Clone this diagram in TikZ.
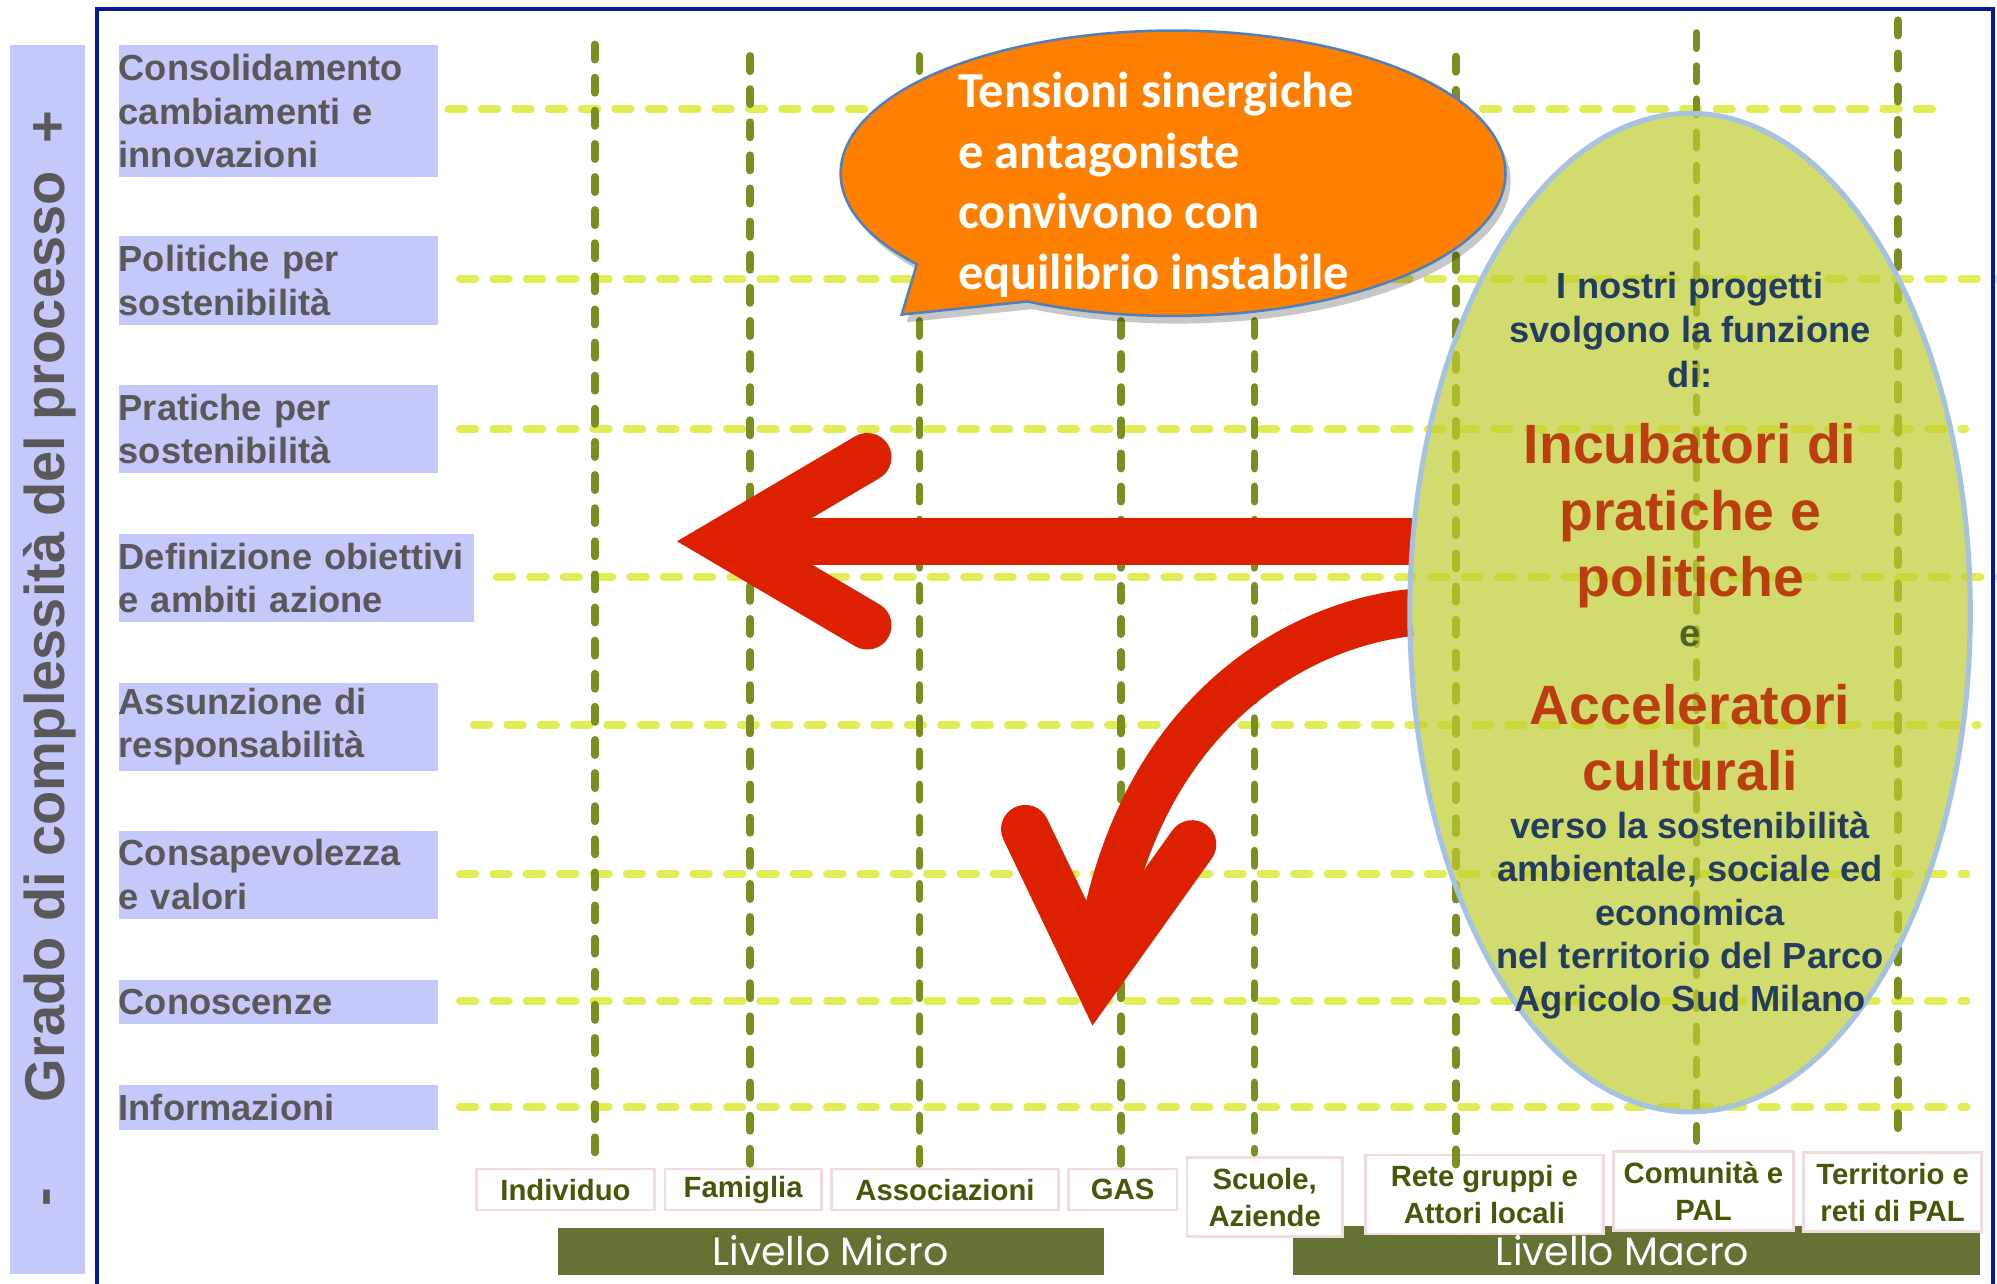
\documentclass[tikz,border=0pt]{standalone}
\usepackage{fontspec}
\setmainfont{Liberation Sans}
\newfontfamily\calib{Carlito}
\newfontfamily\comicf{Poppins}
\usetikzlibrary{shapes.geometric}
\definecolor{lav}{RGB}{197,200,250}
\definecolor{labgray}{RGB}{89,89,89}
\definecolor{yel}{RGB}{226,236,84}
\definecolor{grn}{RGB}{122,143,32}
\definecolor{pinkb}{RGB}{242,220,219}
\definecolor{olivetext}{RGB}{75,85,10}
\definecolor{barg}{RGB}{99,115,52}
\definecolor{frameblue}{RGB}{5,25,160}
\definecolor{arrred}{RGB}{221,32,0}
\definecolor{bubor}{RGB}{255,127,0}
\definecolor{bubedge}{RGB}{79,129,189}
\definecolor{ellf}{RGB}{192,205,48}
\definecolor{elledge}{RGB}{167,193,224}
\definecolor{navy}{RGB}{35,60,95}
\definecolor{brick}{RGB}{187,62,16}
\definecolor{eolive}{RGB}{79,98,40}
\begin{document}
\begin{tikzpicture}[x=1pt,y=-1pt,
  lab/.style={fill=lav, text=labgray, inner sep=0pt, anchor=north west,
    font=\bfseries\fontsize{28.5}{34}\selectfont, align=left},
  botbox/.style={draw=pinkb, line width=2pt, fill=white, inner sep=0pt, anchor=north west,
    text=olivetext, font=\bfseries\fontsize{23}{29}\selectfont, align=center},
  hline/.style={draw=yel, line width=6pt, line cap=round, dash pattern=on 12.3pt off 13.9pt},
  vline/.style={draw=grn, line width=6.2pt, line cap=round, dash pattern=on 11.8pt off 14.2pt},
  levbar/.style={fill=barg},
  levtext/.style={text=white, font=\comicf\fontsize{31}{34}\selectfont},
  redshaft/.style={draw=arrred, line width=37pt},
  redhead/.style={draw=arrred, line width=38pt, line cap=round, line join=miter, miter limit=10},
  navytext/.style={text=navy, align=center, font=\bfseries\fontsize{28.5}{35}\selectfont},
  bricktext/.style={text=brick, align=center, font=\bfseries\fontsize{43.5}{52}\selectfont}
]
\useasboundingbox (0,0) rectangle (1568,1008);
\fill[white] (0,0) rectangle (1568,1008);

% left vertical bar
\fill[lav] (8,35) rectangle (67,1000);
\node[rotate=90, text=labgray, font=\bfseries\fontsize{44}{48}\selectfont] (title) at (39,500) {Grado di complessità del processo};
\node[rotate=90, text=labgray, font=\bfseries\fontsize{44}{48}\selectfont] (plus) at (39,100) {+};
\node[rotate=90, text=labgray, font=\bfseries\fontsize{44}{48}\selectfont] (minus) at (41,940) {-};

% left labels
\node[lab, text width=251pt, minimum height=104pt] (l1) at (93,35) {Consolidamento\\cambiamenti e\\innovazioni};
\node[lab, text width=251pt, minimum height=70pt] (l2) at (93,185) {Politiche per\\sostenibilità};
\node[lab, text width=251pt, minimum height=69pt] (l3) at (93,302) {Pratiche per\\sostenibilità};
\node[lab, text width=279pt, minimum height=69pt] (l4) at (93,419) {Definizione obiettivi\\e ambiti azione};
\node[lab, text width=251pt, minimum height=69pt] (l5) at (93,536) {Assunzione di\\responsabilità};
\node[lab, text width=251pt, minimum height=69pt] (l6) at (93,652) {Consapevolezza\\e valori};
\node[lab, text width=251pt, minimum height=35pt] (l7) at (93,769) {Conoscenze};
\node[lab, text width=251pt, minimum height=35pt] (l8) at (93,852) {Informazioni};

% level bars
\fill[levbar] (438,964) rectangle (867,1001);
\fill[levbar] (1015,963) rectangle (1555,1001);
\node[levtext] (micro) at (652,982) {Livello Micro};
\node[levtext] (macro) at (1274,982) {Livello Macro};

% bottom boxes
\node[botbox, minimum width=140pt, minimum height=32pt] (b1) at (373,917) {Individuo};
\node[botbox, minimum width=123pt, minimum height=32pt] (b2) at (521,917) {Famiglia};
\node[botbox, minimum width=178pt, minimum height=32pt] (b3) at (652,917) {Associazioni};
\node[botbox, minimum width=85pt, minimum height=32pt] (b4) at (838,917) {GAS};
\node[botbox, minimum width=122pt, minimum height=62pt] (b5) at (931,908) {Scuole,\\Aziende};
\node[botbox, minimum width=187pt, minimum height=62pt] (b6) at (1071,906) {Rete gruppi e\\Attori locali};
\node[botbox, minimum width=141pt, minimum height=62pt] (b7) at (1266,903) {Comunità e\\PAL};
\node[botbox, minimum width=140pt, minimum height=62pt] (b8) at (1415,904) {Territorio e\\reti di PAL};

% horizontal dashed lines
\draw[hline] (352,85.6) -- (1527,85.6);
\draw[hline] (361,219) -- (1572,219);
\draw[hline] (361,337) -- (1543,337);
\draw[hline] (390,453) -- (1572,453);
\draw[hline] (372,569) -- (1553,569);
\draw[hline] (361,686) -- (1544,686);
\draw[hline] (361,786) -- (1544,786);
\draw[hline] (361,869) -- (1544,869);

% vertical dashed lines
\draw[vline] (467,35) -- (467,911);
\draw[vline] (589,44) -- (589,920);
\draw[vline] (722,44) -- (722,920);
\draw[vline] (880,44) -- (880,919);
\draw[vline] (985,44) -- (985,905);
\draw[vline] (1143,44.5) -- (1143,918);
\draw[vline] (1332,26) -- (1332,900);
\draw[vline] (1490,16) -- (1490,891);

% horizontal red arrow
\coordinate (hstart) at (1109,425);
\coordinate (htip) at (569,425);
\coordinate (hup) at (681,359);
\coordinate (hdn) at (681,491);
\draw[redshaft] (hstart) -- (htip);
\draw[redhead] (hup) -- (htip) -- (hdn);

% speech bubble
\fill[black, opacity=0.22, shift={(4,6)}] (806.6,236.7) arc[start angle=244, end angle=579.6, x radius=261pt, y radius=112pt] -- (708,247) -- cycle;
\draw[fill=bubor, draw=bubedge, line width=2pt] (806.6,236.7) arc[start angle=244, end angle=579.6, x radius=261pt, y radius=112pt] -- (708,247) -- cycle;
\node[font=\calib\bfseries\fontsize{39.6}{47.7}\selectfont, text=white, align=left, anchor=west, inner sep=0pt] (bt) at (752,145) {Tensioni sinergiche\\e antagoniste\\convivono con\\equilibrio instabile};

% curved red arrow
\coordinate (cstart) at (1108,481);
\coordinate (cvert) at (861,768);
\coordinate (cleft) at (805,651);
\coordinate (cright) at (936,663);
\draw[redshaft] (cstart) .. controls (1020,490) and (885,560) .. (cvert);
\draw[redhead] (cleft) -- (cvert) -- (cright);

% green ellipse
\node[ellipse, draw=elledge, line width=4pt, fill=ellf, fill opacity=0.7, draw opacity=1,
  minimum width=440pt, minimum height=784pt, inner sep=0pt] (ell) at (1327,481) {};
\node[navytext] (e1) at (1327,259) {I nostri progetti\\svolgono la funzione\\di:};
\node[bricktext] (e2) at (1327,405) {Incubatori di\\pratiche e\\politiche};
\node[text=eolive, font=\bfseries\fontsize{30}{34}\selectfont] (e3) at (1327,500) {e};
\node[bricktext] (e4) at (1327,579) {Acceleratori\\culturali};
\node[navytext, font=\bfseries\fontsize{28.5}{34}\selectfont] (e5) at (1327,719) {verso la sostenibilità\\ambientale, sociale ed\\economica\\nel territorio del Parco\\Agricolo Sud Milano};

% frame
\draw[frameblue, line width=3.5pt] (76,7) rectangle (1565,1030);
\end{tikzpicture}
\end{document}
